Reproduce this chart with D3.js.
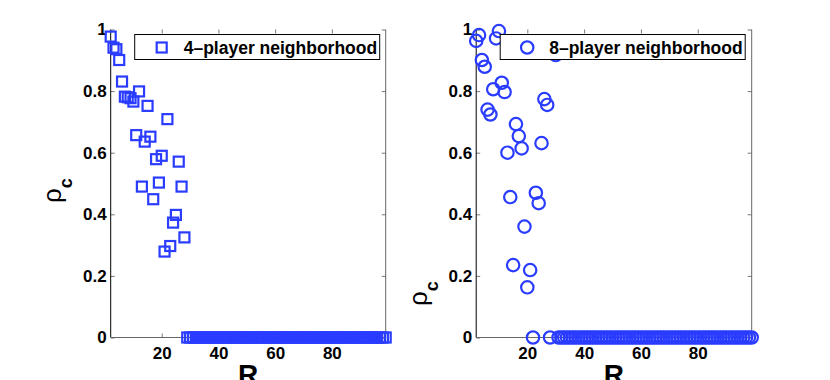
<!doctype html>
<html>
<head>
<meta charset="utf-8">
<script src="https://d3js.org/d3.v7.min.js"></script>
<style>
    body { margin: 0; background: #fff; }
    svg text { font-family: "Liberation Sans", Arial, sans-serif; font-weight: bold; fill: #000; }
    .tick text { font-size: 17px; }
    .tick line { stroke: #777; }
</style>
</head>
<body>
<script>
    // R values (x) shared by both panels
    var R = [ 2,  3,  4,  5,  6,  7,  8,  9, 10, 11, 12, 13, 14, 15, 16, 17, 18, 19, 20, 21,
             22, 23, 24, 25, 26, 27, 28, 29, 30, 31, 32, 33, 34, 35, 36, 37, 38, 39, 40, 41,
             42, 43, 44, 45, 46, 47, 48, 49, 50, 51, 52, 53, 54, 55, 56, 57, 58, 59, 60, 61,
             62, 63, 64, 65, 66, 67, 68, 69, 70, 71, 72, 73, 74, 75, 76, 77, 78, 79, 80, 81,
             82, 83, 84, 85, 86, 87, 88, 89, 90, 91, 92, 93, 94, 95, 96, 97, 98, 99];

    // rho_c, 4-player neighborhood
    var rho4 = [0.977, 0.941, 0.936, 0.901, 0.831, 0.782, 0.780, 0.777, 0.766, 0.657,
                0.799, 0.490, 0.636, 0.752, 0.652, 0.449, 0.579, 0.503, 0.590, 0.279,
                0.709, 0.297, 0.373, 0.398, 0.571, 0.490, 0.325,
                0, 0, 0, 0, 0, 0, 0, 0, 0, 0,
                0, 0, 0, 0, 0, 0, 0, 0, 0, 0,
                0, 0, 0, 0, 0, 0, 0, 0, 0, 0,
                0, 0, 0, 0, 0, 0, 0, 0, 0, 0,
                0, 0, 0, 0, 0, 0, 0, 0, 0, 0,
                0, 0, 0, 0, 0, 0, 0, 0, 0, 0,
                0, 0, 0, 0, 0, 0, 0, 0, 0, 0,
                0];

    // rho_c, 8-player neighborhood
    var rho8 = [0.963, 0.982, 0.901, 0.879, 0.740, 0.724, 0.806, 0.971, 0.995, 0.827,
                0.797, 0.600, 0.456, 0.235, 0.693, 0.654, 0.614, 0.360, 0.163, 0.219,
                0, 0.470, 0.436, 0.631, 0.774, 0.755, 0, 0.950, 0.917,
                0, 0, 0, 0, 0, 0, 0, 0, 0, 0,
                0, 0, 0, 0, 0, 0, 0, 0, 0, 0,
                0, 0, 0, 0, 0, 0, 0, 0, 0, 0,
                0, 0, 0, 0, 0, 0, 0, 0, 0, 0,
                0, 0, 0, 0, 0, 0, 0, 0, 0, 0,
                0, 0, 0, 0, 0, 0, 0, 0, 0, 0,
                0, 0, 0, 0, 0, 0, 0, 0, 0];

    var yTicks = [0, 0.2, 0.4, 0.6, 0.8, 1];
    var xTicks = [20, 40, 60, 80];
    var legendLabels = ["4\u2013player neighborhood", "8\u2013player neighborhood"];

    var width = 830, height = 380,
        plotTop = 29.5, plotBottom = 337.5,
        blue = "#2a3cff";

    var svg = d3.select("body").append("svg")
        .attr("width", width)
        .attr("height", height);

    var y = d3.scaleLinear().domain([0, 1]).range([plotBottom, plotTop]);

    function noDomain(g) { g.select(".domain").remove(); }

    function panel(left, right, values, shape, legendText, labelY) {
        var x = d3.scaleLinear().domain([2, 99]).range([left, right]);
        var g = svg.append("g");

        // ticks, all pointing inward
        g.append("g").attr("transform", "translate(" + left + ",0)")
            .call(d3.axisLeft(y).tickValues(yTicks).tickSize(-4).tickPadding(4).tickFormat(d3.format("")))
            .call(noDomain);
        g.append("g").attr("transform", "translate(" + right + ",0)")
            .call(d3.axisRight(y).tickValues(yTicks).tickSize(-4).tickFormat(""))
            .call(noDomain);
        g.append("g").attr("transform", "translate(0," + plotBottom + ")")
            .call(d3.axisBottom(x).tickValues(xTicks).tickSize(-4).tickPadding(9).tickFormat(d3.format("")))
            .call(noDomain);
        g.append("g").attr("transform", "translate(0," + plotTop + ")")
            .call(d3.axisTop(x).tickValues(xTicks).tickSize(-4).tickFormat(""))
            .call(noDomain);

        // box lines
        g.append("line").attr("x1", left).attr("x2", left).attr("y1", plotTop).attr("y2", plotBottom)
            .attr("stroke", "#000");
        g.append("line").attr("x1", left).attr("x2", right).attr("y1", plotBottom).attr("y2", plotBottom)
            .attr("stroke", "#666");
        g.append("line").attr("x1", right).attr("x2", right).attr("y1", plotTop).attr("y2", plotBottom)
            .attr("stroke", "#666");

        // markers
        var pts = R.map(function (r, i) { return { r: r, v: values[i] }; })
                   .filter(function (d) { return d.v !== undefined; });
        if (shape === "square") {
            g.append("g").selectAll("rect").data(pts).enter().append("rect")
                .attr("x", function (d) { return x(d.r) - 5; })
                .attr("y", function (d) { return y(d.v) - 5; })
                .attr("width", 10).attr("height", 10)
                .attr("fill", "none").attr("stroke", blue).attr("stroke-width", 2.2);
        } else {
            g.append("g").selectAll("circle").data(pts).enter().append("circle")
                .attr("cx", function (d) { return x(d.r); })
                .attr("cy", function (d) { return y(d.v); })
                .attr("r", 6.2)
                .attr("fill", "none").attr("stroke", blue).attr("stroke-width", 2.2);
        }

        // legend
        var lx = left + 24, ly = 34.5;
        g.append("rect").attr("x", lx).attr("y", ly).attr("width", 245).attr("height", 25)
            .attr("fill", "#fff").attr("stroke", "#000");
        if (shape === "square") {
            g.append("rect").attr("x", lx + 22).attr("y", ly + 8).attr("width", 10).attr("height", 10)
                .attr("fill", "none").attr("stroke", blue).attr("stroke-width", 2.2);
        } else {
            g.append("circle").attr("cx", lx + 27).attr("cy", ly + 13).attr("r", 6.2)
                .attr("fill", "none").attr("stroke", blue).attr("stroke-width", 2.2);
        }
        g.append("text").attr("x", lx + 49).attr("y", ly + 19)
            .style("font-size", "17.5px")
            .text(legendText);

        // axis labels
        g.append("text").attr("x", (left + right) / 2).attr("y", 384)
            .attr("text-anchor", "middle")
            .style("font-size", "28px")
            .text("R");

        var lab = g.append("text")
            .attr("transform", "translate(" + (left - 49.3) + "," + labelY + ") rotate(-90)");
        lab.append("tspan").style("font-size", "26px").style("font-weight", "normal").text("\u03c1");
        lab.append("tspan").attr("dy", 11).style("font-size", "18px").text("c");
    }

    panel(110.7, 385.7, rho4, "square", legendLabels[0], 203);
    panel(476.2, 751.7, rho8, "circle", legendLabels[1], 306);
</script>
</body>
</html>
